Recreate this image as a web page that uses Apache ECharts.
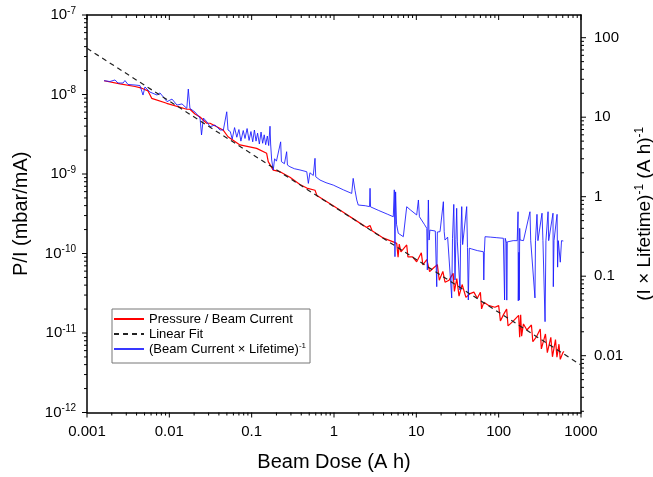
<!DOCTYPE html>
<html><head><meta charset="utf-8">
<script src="https://cdn.jsdelivr.net/npm/echarts@6/dist/echarts.min.js"></script>
<style>html,body{margin:0;padding:0;background:#fff}#c{width:653px;height:477px}</style>
</head><body><div id="c"></div>
<script>
// ---- data ----
const redDose = [0.00161,0.00252,0.00383,0.00462,0.00551,0.00611,0.00929,0.0163,0.0178,0.0205,0.0236,0.0284,0.0312,0.0449,0.0516,0.0721,0.115,0.152,0.159,0.183,0.221,0.292,0.386,0.467,0.588,0.62,1.0,1.56,2.5,2.74,2.9,4.0,5.25,5.78,6.0,6.2,6.5,7.64,7.9,9,10.1,11.5,12,13.4,14.5,16,18,19,21,22.3,25,28,29,31,33,36,40,45,50,55,60,62,66,75,90,100,105,114,125,130,150,175,180,185,190,200,220,250,260,290,320,330,370,390,430,450,490,510,540,560,600,620];
const redPI = [1.49e-8,1.36e-8,1.26e-8,1.20e-8,1.11e-8,8.95e-9,7.75e-9,6.52e-9,6.52e-9,5.69e-9,5.21e-9,4.35e-9,4.35e-9,3.58e-9,2.94e-9,2.32e-9,2.10e-9,1.82e-9,1.43e-9,1.12e-9,1.07e-9,9.08e-10,7.36e-10,6.65e-10,6.25e-10,5.38e-10,3.92e-10,2.91e-10,2.13e-10,2.25e-10,1.93e-10,1.56e-10,1.40e-10,1.34e-10,9.0e-11,1.31e-10,1.05e-10,1.28e-10,9.06e-11,9.1e-11,7.87e-11,1.02e-10,7.19e-11,8.41e-11,5.92e-11,6.52e-11,7.24e-11,4.61e-11,5.96e-11,4.35e-11,4.62e-11,5.65e-11,3.33e-11,4.82e-11,2.91e-11,4.07e-11,2.81e-11,3.13e-11,3.27e-11,2.74e-11,3.25e-11,2.01e-11,2.43e-11,2.23e-11,2.11e-11,2.21e-11,1.42e-11,1.69e-11,2.0e-11,1.23e-11,1.41e-11,1.67e-11,8.83e-12,1.69e-11,9.12e-12,1.30e-11,1.09e-11,1.26e-11,7.76e-12,9.08e-12,1.12e-11,6.32e-12,9.73e-12,5.66e-12,8.81e-12,5.02e-12,8.26e-12,4.95e-12,7.23e-12,4.66e-12,5.61e-12,5.87e-12];

const blueDose = [0.00161,0.0019,0.00219,0.00238,0.00274,0.00289,0.00315,0.00383,0.0044,0.00479,0.00506,0.00582,0.00708,0.0077,0.00937,0.01077,0.01239,0.01425,0.0163,0.0170,0.0178,0.0205,0.0236,0.0246,0.0259,0.0287,0.0312,0.0359,0.0412,0.0453,0.0498,0.0516,0.055,0.058,0.062,0.066,0.07,0.074,0.079,0.083,0.088,0.093,0.098,0.103,0.108,0.113,0.118,0.124,0.13,0.136,0.142,0.148,0.155,0.161,0.167,0.170,0.175,0.183,0.19,0.2,0.21,0.225,0.23,0.25,0.266,0.272,0.292,0.33,0.386,0.467,0.488,0.51,0.56,0.588,0.6,0.676,0.8,0.98,1.3,1.64,1.71,1.8,1.89,1.97,2.4,2.70,2.74,2.78,3.5,4.5,5.25,5.4,5.5,5.6,5.75,6.04,6.95,7.3,7.64,8.5,10.1,10.6,10.9,12.5,13.4,13.6,13.8,14.0,14.3,14.6,17.0,17.7,18.0,19.4,20.5,21.3,21.8,22.3,24,26.9,27.5,28.5,29.5,30.2,30.9,31.5,33.9,34.5,35.6,36.5,40.9,41.8,42.8,44,47.1,55,65.2,66,67,68.3,80,95,114,118,120,125,125.5,127,130,150,168,172,173,176,178,180,182,200,240,245,276,280,292,300,336,345,366,375,398,405,457,461,470,512,520,530,560,580,610];
const blueRate = [28.8,28.1,29.4,26.9,26.9,28.9,25.8,25.4,25.0,19.0,24.0,20.7,19.0,20.2,15.7,16.9,14.2,14.7,12.9,22.6,12.9,11.6,9.77,5.98,9.77,8.70,7.60,7.98,6.90,6.90,11.7,6.90,6.6,5.3,7.4,5.6,7.0,5.0,6.8,5.4,7.2,5.1,6.6,4.9,6.9,5.0,6.3,4.6,6.5,4.7,6.0,4.5,5.8,4.4,7.7,4.6,2.89,2.17,3.0,2.8,2.9,4.9,2.76,2.6,3.68,2.5,2.38,2.25,2.17,2.06,1.47,2.0,1.85,3.04,1.78,1.62,1.5,1.40,1.22,1.10,1.70,1.2,0.909,0.786,0.77,0.75,1.275,0.745,0.67,0.60,0.56,1.22,0.176,1.15,0.45,0.346,0.314,0.32,0.748,0.68,0.589,0.909,0.56,0.45,0.40,0.12,0.40,0.909,0.285,0.38,0.37,0.0738,0.36,0.363,0.36,0.865,0.363,0.285,0.31,0.0532,0.30,0.80,0.0896,0.29,0.715,0.27,0.0671,0.26,0.75,0.25,0.75,0.23,0.0502,0.225,0.22,0.21,0.203,0.0896,0.2,0.314,0.31,0.305,0.30,0.0502,0.30,0.26,0.05,0.27,0.28,0.28,0.28,0.647,0.049,0.2,0.05,0.4,0.285,0.28,0.647,0.28,0.0533,0.28,0.60,0.28,0.62,0.28,0.0268,0.28,0.647,0.28,0.62,0.0738,0.28,0.60,0.13,0.28,0.15,0.28,0.277];

const fitDose = [0.001, 1000];
const fitPI = [3.81e-8, 3.95e-12];

// axis ranges / ticks
const xRange = [0.001, 1000];
const yLeftRange = [1e-12, 1e-7];
const yRightRange = [0.00193, 193];
const tickMantissas = [1,2,3,4,5,6,7,8,9];
const xDecades = [-3,-2,-1,0,1,2];
const yLeftDecades = [-12,-11,-10,-9,-8];
const yRightDecades = [-3,-2,-1,0,1,2];

const seriesNames = ['Pressure / Beam Current', 'Linear Fit', '(Beam Current \u00d7 Lifetime)'];

function ticksFor(decades, top, lo, hi) {
  const out = [];
  decades.forEach(d => tickMantissas.forEach(m => {
    const v = m * Math.pow(10, d);
    if (v > lo * 1.0001 && v < hi / 1.0001 || (m === 1 && v >= lo*0.9999 && v <= hi*1.0001)) out.push([v, m === 1 ? 1 : 0]);
  }));
  if (top) out.push([top, 1]);
  return out;
}
const xTicks = ticksFor(xDecades, 1000, xRange[0], xRange[1]);
const yLTicks = ticksFor(yLeftDecades, 1e-7, yLeftRange[0], yLeftRange[1]);
const yRTicks = ticksFor(yRightDecades, null, yRightRange[0], yRightRange[1]);

const FONT = "'Liberation Sans', Arial, sans-serif";
const isDecade = v => Math.abs(Math.log10(v) - Math.round(Math.log10(v))) < 1e-6;

const chart = echarts.init(document.getElementById('c'), null, {renderer: 'canvas'});
const lineSt = () => ({stroke: '#000', lineWidth: 1});

chart.setOption({
  animation: false,
  backgroundColor: '#fff',
  textStyle: {fontFamily: FONT, color: '#000'},
  grid: {left: 87, right: 72, top: 15, bottom: 64.5, containLabel: false, outerBoundsMode: 'none'},
  legend: {
    data: seriesNames,
    orient: 'vertical', left: 112, top: 309,
    itemWidth: 30, itemHeight: 10, itemGap: 1, itemTextGap: 4,
    padding: [3, 4, 7, 1],
    borderColor: '#777', borderWidth: 1,
    itemStyle: {opacity: 0},
    textStyle: {fontFamily: FONT, fontSize: 13, color: '#000', lineHeight: 14,
      rich: {n: {fontFamily: FONT, fontSize: 13, color: '#000', lineHeight: 14},
             s: {fontFamily: FONT, fontSize: 8, color: '#000', verticalAlign: 'top', lineHeight: 8}}},
    formatter: name => name === seriesNames[2] ? '{n|' + name + '}{s|-1}' : name
  },
  xAxis: [{
    type: 'log', logBase: 10, min: xRange[0], max: xRange[1], position: 'bottom',
    name: 'Beam Dose (A h)', nameLocation: 'middle', nameGap: 40,
    nameTextStyle: {fontFamily: FONT, fontSize: 20, color: '#000'},
    axisLine: {show: true, onZero: false, lineStyle: {color: '#000', width: 1.5}},
    axisTick: {show: false}, splitLine: {show: false}, minorTick: {show: false},
    axisLabel: {margin: 12, fontFamily: FONT, fontSize: 15, color: '#000',
      formatter: v => { const e = Math.round(Math.log10(v)); return e < 0 ? Math.pow(10, e).toFixed(-e) : String(Math.round(Math.pow(10, e))); }}
  }, {
    type: 'log', logBase: 10, min: xRange[0], max: xRange[1], position: 'top',
    axisLine: {show: true, onZero: false, lineStyle: {color: '#000', width: 1.5}},
    axisTick: {show: false}, axisLabel: {show: false}, splitLine: {show: false}
  }],
  yAxis: [{
    type: 'log', logBase: 10, min: yLeftRange[0], max: yLeftRange[1], position: 'left',
    name: 'P/I (mbar/mA)', nameLocation: 'middle', nameGap: 56, nameRotate: 90,
    nameTextStyle: {fontFamily: FONT, fontSize: 20, color: '#000'},
    axisLine: {show: true, onZero: false, lineStyle: {color: '#000', width: 1.5}},
    axisTick: {show: false}, splitLine: {show: false},
    axisLabel: {margin: 11, fontFamily: FONT, color: '#000',
      formatter: v => isDecade(v) ? '{b|10}{s|' + Math.round(Math.log10(v)) + '}' : '',
      rich: {b: {fontFamily: FONT, fontSize: 15, color: '#000', lineHeight: 18},
             s: {fontFamily: FONT, fontSize: 10, color: '#000', verticalAlign: 'top', lineHeight: 10}}}
  }, {
    type: 'log', logBase: 10, min: yRightRange[0], max: yRightRange[1], position: 'right',
    name: '{t|(I \u00d7 Lifetime)}{s|-1}{t| (A h)}{s|-1}', nameLocation: 'middle', nameGap: 50, nameRotate: 90,
    nameTextStyle: {fontFamily: FONT, fontSize: 19, color: '#000',
      rich: {t: {fontFamily: FONT, fontSize: 19, color: '#000', lineHeight: 22},
             s: {fontFamily: FONT, fontSize: 12, color: '#000', verticalAlign: 'top', lineHeight: 12}}},
    axisLine: {show: true, onZero: false, lineStyle: {color: '#000', width: 1.5}},
    axisTick: {show: false}, splitLine: {show: false},
    axisLabel: {margin: 13, fontFamily: FONT, fontSize: 15, color: '#000',
      formatter: v => { if (!isDecade(v)) return ''; const e = Math.round(Math.log10(v)); return e < 0 ? Math.pow(10, e).toFixed(-e) : String(Math.round(Math.pow(10, e))); }}
  }],
  series: [
    {name: seriesNames[0], type: 'line', xAxisIndex: 0, yAxisIndex: 0, z: 2,
     data: redDose.map((x, i) => [x, redPI[i]]), showSymbol: false, symbol: 'none',
     color: '#ff0000', lineStyle: {color: '#ff0000', width: 1.2}},
    {name: seriesNames[2], type: 'line', xAxisIndex: 0, yAxisIndex: 1, z: 3,
     data: blueDose.map((x, i) => [x, blueRate[i]]), showSymbol: false, symbol: 'none',
     color: '#1515ff', lineStyle: {color: '#1515ff', width: 1, opacity: 0.85}},
    {name: seriesNames[1], type: 'line', xAxisIndex: 0, yAxisIndex: 0, z: 4,
     data: fitDose.map((x, i) => [x, fitPI[i]]), showSymbol: false, symbol: 'none',
     color: '#222', lineStyle: {color: '#222', width: 1.2, type: [5, 4]}},
    {type: 'custom', xAxisIndex: 0, yAxisIndex: 0, silent: true, clip: false, z: 5,
     data: xTicks.map(t => [t[0], yLeftRange[0], t[1]]),
     renderItem: (params, api) => {
       const v = api.value(0), len = api.value(2) ? 5 : 3;
       const b = api.coord([v, yLeftRange[0]]), t = api.coord([v, yLeftRange[1]]);
       return {type: 'group', children: [
         {type: 'line', shape: {x1: b[0], y1: b[1], x2: b[0], y2: b[1] + len}, style: lineSt()},
         {type: 'line', shape: {x1: t[0], y1: t[1], x2: t[0], y2: t[1] + len}, style: lineSt()}]};
     }},
    {type: 'custom', xAxisIndex: 0, yAxisIndex: 0, silent: true, clip: false, z: 5,
     data: yLTicks.map(t => [xRange[0], t[0], t[1]]),
     renderItem: (params, api) => {
       const len = api.value(2) ? 5 : 3;
       const p = api.coord([xRange[0], api.value(1)]);
       return {type: 'line', shape: {x1: p[0] - len, y1: p[1], x2: p[0], y2: p[1]}, style: lineSt()};
     }},
    {type: 'custom', xAxisIndex: 0, yAxisIndex: 1, silent: true, clip: false, z: 5,
     data: yRTicks.map(t => [xRange[1], t[0], t[1]]),
     renderItem: (params, api) => {
       const len = api.value(2) ? 5 : 3;
       const p = api.coord([xRange[1], api.value(1)]);
       return {type: 'line', shape: {x1: p[0], y1: p[1], x2: p[0] + len, y2: p[1]}, style: lineSt()};
     }}
  ]
});
</script></body></html>
